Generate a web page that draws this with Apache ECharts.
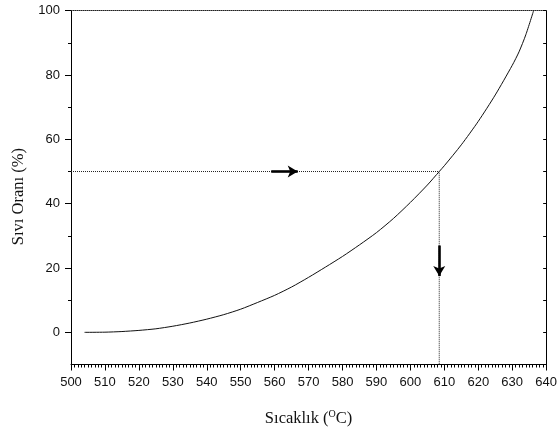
<!DOCTYPE html>
<html>
<head>
<meta charset="utf-8">
<script src="https://cdn.jsdelivr.net/npm/echarts@6/dist/echarts.min.js"></script>
<style>html,body{margin:0;padding:0;background:#fff}#c{width:560px;height:432px}</style>
</head>
<body>
<div id="c"></div>
<script>
// Data
const temperature = [504, 510, 515, 520, 525, 530, 535, 540, 545, 550, 555, 560, 565, 570, 575, 580, 585, 590, 595, 600, 605, 608.5, 610, 615, 620, 625, 630, 632, 634, 636.3];
const liquidFraction = [0, 0.05, 0.25, 0.6, 1.1, 1.9, 2.9, 4.1, 5.5, 7.2, 9.3, 11.5, 14.1, 17.1, 20.3, 23.6, 27.2, 31.0, 35.4, 40.4, 45.8, 50, 51.8, 58.3, 65.6, 73.8, 83, 87.2, 92.5, 100];
const refX = [500, 608.5, 608.5];
const refY = [50, 50, -10];
const arrowRight = [[559, 50], [566.8, 50]];
const arrowDown = [[608.5, 27], [608.5, 17.5]];
const yMajorTicks = [0, 20, 40, 60, 80, 100];
const yMinorTicks = [10, 30, 50, 70, 90];
const yRightTicks = [0, 10, 20, 30, 40, 50, 60, 70, 80, 90, 100];

const chart = echarts.init(document.getElementById('c'), null, {renderer: 'canvas'});
const tickFont = {fontFamily: 'Liberation Sans', fontSize: 13, color: '#111'};
const black = '#000';

chart.setOption({
  animation: false,
  grid: {left: 71, right: 12, top: 10.7, bottom: 66.4, containLabel: false},
  xAxis: [
    {
      type: 'value', min: 500, max: 640, interval: 10, position: 'bottom',
      name: 'Sıcaklık ({sup|O}C)', nameLocation: 'middle', nameGap: 45,
      nameTextStyle: {fontFamily: 'Liberation Serif', fontSize: 16.5, color: '#111',
        rich: {sup: {fontFamily: 'Liberation Serif', fontSize: 10, verticalAlign: 'top', padding: [0, 0, 8, 0], color: '#111'}}},
      axisLine: {show: true, onZero: false, lineStyle: {color: black, width: 1}},
      axisTick: {show: true, inside: false, length: 6, lineStyle: {color: black}},
      minorTick: {show: true, splitNumber: 10, length: 3, lineStyle: {color: black}},
      axisLabel: Object.assign({margin: 11}, tickFont),
      splitLine: {show: false}
    },
    {
      type: 'value', min: 500, max: 640, position: 'top',
      axisLine: {show: true, onZero: false, lineStyle: {color: '#222', width: 1, type: [1, 1]}},
      axisTick: {show: false}, axisLabel: {show: false}, splitLine: {show: false}
    }
  ],
  yAxis: [
    {
      type: 'value', min: -10, max: 100, position: 'left',
      name: 'Sıvı Oranı (%)', nameLocation: 'middle', nameGap: 44, nameRotate: 90,
      nameTextStyle: {fontFamily: 'Liberation Serif', fontSize: 16.5, color: '#111', padding: [0, 18, 0, 0]},
      axisLine: {show: true, onZero: false, lineStyle: {color: black, width: 1}},
      axisTick: {show: true, length: 6, customValues: yMajorTicks, lineStyle: {color: black}},
      axisLabel: Object.assign({margin: 11, customValues: yMajorTicks}, tickFont),
      splitLine: {show: false}
    },
    {
      type: 'value', min: -10, max: 100, position: 'left',
      axisLine: {show: false, onZero: false},
      axisTick: {show: true, length: 3, customValues: yMinorTicks, lineStyle: {color: black}},
      axisLabel: {show: false, customValues: yMinorTicks},
      splitLine: {show: false}
    },
    {
      type: 'value', min: -10, max: 100, position: 'right',
      axisLine: {show: true, onZero: false, lineStyle: {color: black, width: 1}},
      axisTick: {show: true, inside: true, length: 3, customValues: yRightTicks, lineStyle: {color: black}},
      axisLabel: {show: false, customValues: yRightTicks},
      splitLine: {show: false}
    }
  ],
  series: [
    {
      type: 'line', xAxisIndex: 0, yAxisIndex: 0, smooth: 0.25, symbol: 'none',
      data: temperature.map((t, i) => [t, liquidFraction[i]]),
      lineStyle: {color: '#111', width: 1}
    },
    {
      type: 'line', xAxisIndex: 0, yAxisIndex: 0, symbol: 'none',
      data: refX.map((x, i) => [x, refY[i]]),
      lineStyle: {color: '#222', width: 1, type: [1, 1]},
      markLine: {
        silent: true, symbol: ['none', 'arrow'], symbolSize: [9, 10],
        label: {show: false},
        lineStyle: {color: '#000', width: 2.6, type: 'solid'},
        data: [
          [{coord: arrowRight[0]}, {coord: arrowRight[1]}],
          [{coord: arrowDown[0]}, {coord: arrowDown[1]}]
        ]
      }
    }
  ]
});
</script>
</body>
</html>
